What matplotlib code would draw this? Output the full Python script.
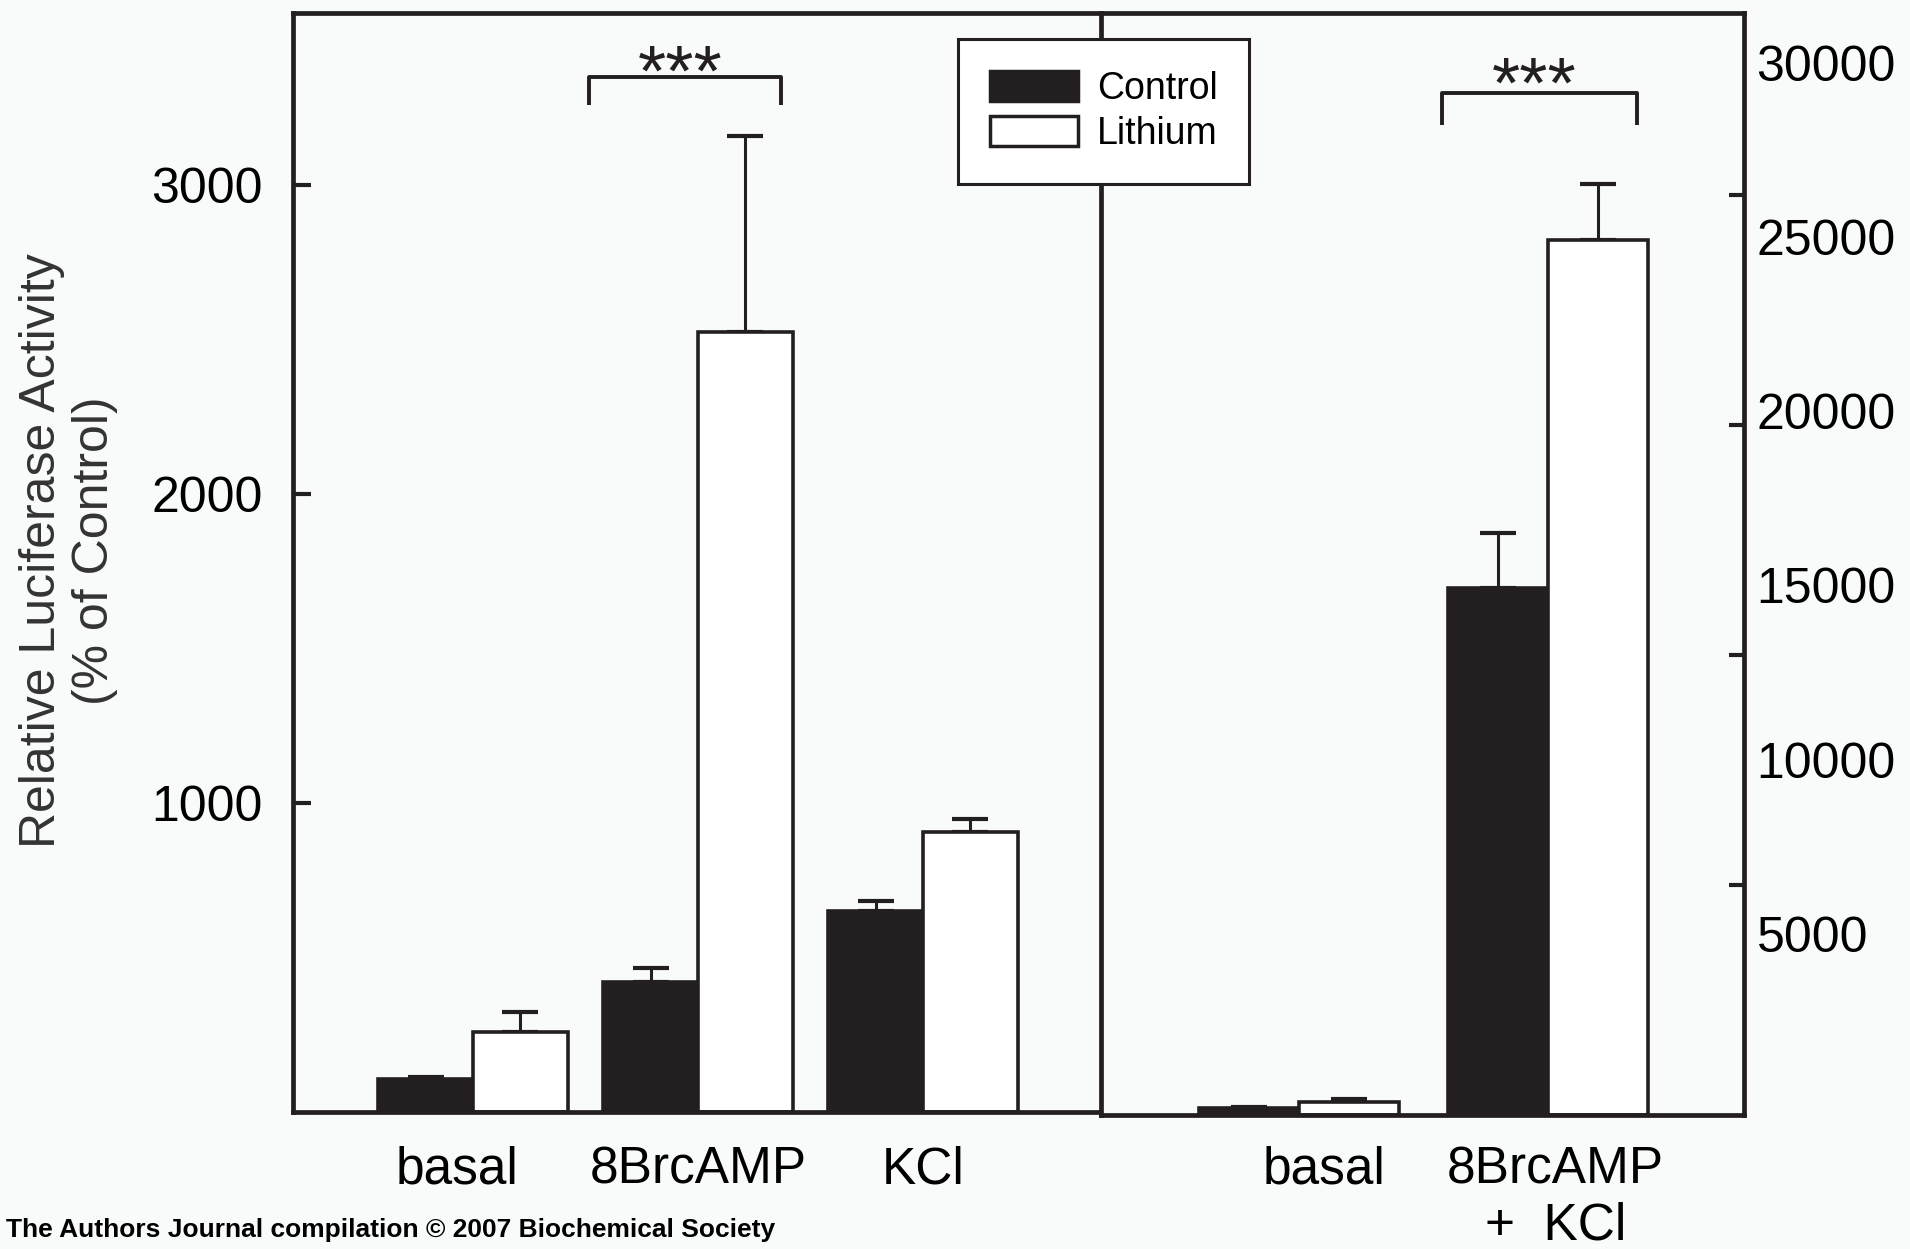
import matplotlib
matplotlib.use("Agg")
import matplotlib.pyplot as plt
from matplotlib.patches import Patch
from matplotlib.transforms import ScaledTranslation
import numpy as np

plt.rcParams['font.family'] = ['Liberation Sans', 'DejaVu Sans']

# ---------------- data ----------------
categories_left = ['basal', '8BrcAMP', 'KCl']
control_left = [107, 421, 651]
control_left_err = [6, 45, 32]
lithium_left = [259, 2525, 906]
lithium_left_err = [65, 635, 43]

categories_right = ['basal', '8BrcAMP\n+  KCl']
control_right = [200, 15126]
control_right_err = [20, 1593]
lithium_right = [373, 25115]
lithium_right_err = [72, 1607]

left_yticks = [1000, 2000, 3000]
right_yticks = [5000, 10000, 15000, 20000, 25000, 30000]
right_tickmarks = [6600, 13200, 19800, 26400]

series_names = ['Control', 'Lithium']
sig_label = '***'

# ---------------- figure ----------------
W, H = 1910, 1249
fig = plt.figure(figsize=(W / 100, H / 100), dpi=100)
bg = '#f9fbfb'
fig.patch.set_facecolor(bg)

def fx(px):
    return px / W

def fy(py):
    return 1 - py / H

ax1 = fig.add_axes([fx(293), fy(1112), fx(1101) - fx(293), fy(13) - fy(1112)])
ax2 = fig.add_axes([fx(1101), fy(1115), fx(1744) - fx(1101), fy(13) - fy(1115)])

dark = '#231f20'
edge_lw = 2.6
spine_lw = 3.4

def draw_panel(ax, cats, ctrl, ctrl_err, lith, lith_err, width, label_shift, pad):
    x = np.arange(len(cats))
    ax.bar(x - width / 2, ctrl, width, color=dark, edgecolor=dark, linewidth=edge_lw, zorder=2)
    ax.bar(x + width / 2, lith, width, color='white', edgecolor=dark, linewidth=edge_lw, zorder=2)
    ax.errorbar(x - width / 2, ctrl, yerr=[np.zeros(len(ctrl)), ctrl_err], fmt='none',
                ecolor=dark, elinewidth=2.2, capsize=13, capthick=3.0, zorder=1)
    ax.errorbar(x + width / 2, lith, yerr=[np.zeros(len(lith)), lith_err], fmt='none',
                ecolor=dark, elinewidth=2.2, capsize=13, capthick=3.0, zorder=1)
    ax.set_xticks(x + np.asarray(label_shift))
    ax.set_xticklabels(cats, fontsize=37, linespacing=1.18)
    ax.tick_params(axis='x', length=0, pad=pad)
    ax.set_facecolor(bg)
    for s in ax.spines.values():
        s.set_linewidth(spine_lw)
        s.set_color(dark)
    return x

# left panel
draw_panel(ax1, categories_left, control_left, control_left_err,
           lithium_left, lithium_left_err, 0.422, [-0.07, 0.0, 0.0], 24)
ax1.set_xlim(-0.8, 2.791)
ax1.set_ylim(0, 3558)
ax1.spines['right'].set_visible(False)
ax1.set_yticks(left_yticks)
ax1.set_yticklabels([str(v) for v in left_yticks], fontsize=36)
ax1.tick_params(axis='y', direction='in', length=13, width=3.0, pad=22, color=dark)
ax1.set_ylabel('Relative Luciferase Activity\n(% of Control)', fontsize=36,
               color='#333333', ha='center', va='center', rotation_mode='default',
               linespacing=1.2)
ax1.yaxis.set_label_coords(-0.278, 0.511)

# right panel
draw_panel(ax2, categories_right, control_right, control_right_err,
           lithium_right, lithium_right_err, 0.40, [0.1, 0.03], 22)
ax2.set_xlim(-0.795, 1.787)
ax2.set_ylim(0, 31630)
ax2.yaxis.tick_right()
ax2.set_yticks(right_yticks)
ax2.set_yticklabels([str(v) for v in right_yticks], fontsize=36)
ax2.tick_params(axis='y', which='major', direction='in', length=0, pad=9)
ax2.set_yticks(right_tickmarks, minor=True)
ax2.tick_params(axis='y', which='minor', direction='in', length=11, width=3.0,
                color=dark, right=True, left=False)
shift_up = ScaledTranslation(0, 7 / 100, fig.dpi_scale_trans)
for lab in ax2.get_yticklabels():
    lab.set_transform(lab.get_transform() + shift_up)

# significance brackets
def bracket(ax, x0, x1, ytop, yleg, ystar):
    ax.plot([x0, x0, x1, x1], [yleg, ytop, ytop, yleg], color=dark, lw=2.8,
            solid_capstyle='butt', clip_on=False, zorder=3)
    ax.text((x0 + x1) / 2 - 0.02, ystar, sig_label, ha='center', va='baseline',
            fontsize=52, color=dark)

bracket(ax1, 0.516, 1.369, 3351, 3260, 3290)
bracket(ax2, 0.574, 1.357, 29334, 28415, 28930)

# legend
handles = [Patch(facecolor=dark, edgecolor=dark, linewidth=2.5),
           Patch(facecolor='white', edgecolor=dark, linewidth=2.5)]
leg = fig.legend(handles, series_names, loc='upper left',
                 bbox_to_anchor=(fx(958), fy(39)), borderaxespad=0,
                 fontsize=27, frameon=True, fancybox=False, framealpha=1,
                 edgecolor=dark, facecolor='white', handlelength=2.35,
                 handleheight=0.85, handletextpad=0.5, labelspacing=0.25,
                 borderpad=0.85)
leg.get_frame().set_linewidth(2.2)
leg.set_zorder(10)

# footer
fig.text(fx(6), fy(1237), 'The Authors Journal compilation \u00a9 2007 Biochemical Society',
         fontsize=19, fontweight='bold', ha='left', va='baseline', color='black')

fig.savefig('out.png', dpi=100, facecolor=bg)
